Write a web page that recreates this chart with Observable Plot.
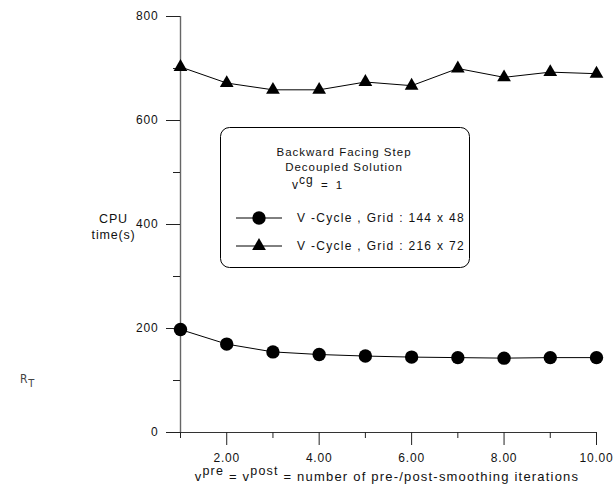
<!DOCTYPE html>
<html>
<head>
<meta charset="utf-8">
<script src="https://cdn.jsdelivr.net/npm/d3@7"></script>
<script src="https://cdn.jsdelivr.net/npm/@observablehq/plot@0.6"></script>
<style>
  html, body { margin: 0; padding: 0; background: #fff; }
  #chart svg { display: block; overflow: visible; }
</style>
</head>
<body>
<div id="chart"></div>
<script>
// ---- data ----
const iterations = [1, 2, 3, 4, 5, 6, 7, 8, 9, 10];
const grid144x48 = [198, 170, 155, 150, 147, 145, 144, 143, 144, 144];
const grid216x72 = [703, 672, 659, 659, 674, 667, 700, 683, 693, 690];
const yMajorTicks = [0, 200, 400, 600, 800];
const yMinorTicks = [100, 300, 500, 700];
const xMajorTicks = [2, 4, 6, 8, 10];
const xMinorTicks = [1, 3, 5, 7, 9];
const seriesNames = ["V -Cycle , Grid : 144 x 48", "V -Cycle , Grid : 216 x 72"];
const titleLines = ["Backward Facing Step", "Decoupled Solution"];

const rows144 = iterations.map((x, i) => ({x, y: grid144x48[i]}));
const rows216 = iterations.map((x, i) => ({x, y: grid216x72[i]}));

const FONT = "'Liberation Sans', Arial, Helvetica, sans-serif";

const plot = Plot.plot({
  width: 613,
  height: 494,
  marginLeft: 180,
  marginRight: 17,
  marginTop: 16,
  marginBottom: 62,
  x: {domain: [1, 10]},
  y: {domain: [0, 800]},
  style: {fontFamily: FONT, fontSize: "12px", letterSpacing: "0.8px", color: "#111", background: "#fff"},
  marks: [
    Plot.ruleX([1], {y1: 0, y2: 800, stroke: "#666", strokeWidth: 1.4}),
    Plot.ruleY([0], {x1: 1, x2: 10, stroke: "#333", strokeWidth: 1.2}),
    Plot.axisY(yMajorTicks, {tickSize: 14, tickPadding: 8, tickFormat: d => String(d), label: null, stroke: "#222"}),
    Plot.axisY(yMinorTicks, {tickSize: 7, tickFormat: () => "", label: null, stroke: "#222"}),
    Plot.axisX(xMajorTicks, {tickSize: 13, tickPadding: 8, tickFormat: d3.format(".2f"), label: null, stroke: "#222"}),
    Plot.axisX(xMinorTicks, {tickSize: 6, tickFormat: () => "", label: null, stroke: "#222"}),
    Plot.text(["CPU\ntime(s)"], {x: () => 1, y: () => 400, dx: -67, dy: 1, lineHeight: 1.3, fontSize: 12.5, fill: "#111"}),
    Plot.line(rows144, {x: "x", y: "y", stroke: "#000", strokeWidth: 1}),
    Plot.line(rows216, {x: "x", y: "y", stroke: "#000", strokeWidth: 1}),
    Plot.dot(rows144, {x: "x", y: "y", r: 6.7, fill: "#000", symbol: "circle"}),
    Plot.dot(rows216, {x: "x", y: "y", r: 5.1, fill: "#000", symbol: "triangle"})
  ]
});

document.getElementById("chart").appendChild(plot);

const svg = d3.select(plot);

// x-axis label with superscripts
const xl = svg.append("text")
  .attr("x", 387).attr("y", 481)
  .attr("text-anchor", "middle")
  .style("font-family", FONT).style("font-size", "13px").style("letter-spacing", "1.2px")
  .attr("fill", "#111");
xl.append("tspan").text("v");
xl.append("tspan").attr("dy", -6).style("font-size", "12.5px").text("pre");
xl.append("tspan").attr("dy", 6).text(" = v");
xl.append("tspan").attr("dy", -6).style("font-size", "12.5px").text("post");
xl.append("tspan").attr("dy", 6).text(" = number of pre-/post-smoothing iterations");

// legend box
const lg = svg.append("g").attr("text-anchor", "start")
  .style("font-family", FONT).style("font-size", "11.5px").style("letter-spacing", "1px").attr("fill", "#111");
lg.append("rect").attr("x", 220.5).attr("y", 127.5).attr("width", 249).attr("height", 140)
  .attr("rx", 9).attr("fill", "#fff").attr("stroke", "#000").attr("stroke-width", 1);
titleLines.forEach((t, i) => {
  lg.append("text").attr("x", 344).attr("y", 156 + i * 15).attr("text-anchor", "middle").text(t);
});
const vcg = lg.append("text").attr("x", 292).attr("y", 189).attr("text-anchor", "start")
  .style("word-spacing", "3px");
vcg.append("tspan").style("font-size", "12px").text("v");
vcg.append("tspan").attr("dy", -5).style("font-size", "12px").text("cg");
vcg.append("tspan").attr("dy", 5).text(" = 1");

const symbols = [d3.symbolCircle, d3.symbolTriangle];
const radii = [6.7, 5.1];
[218, 246].forEach((yy, i) => {
  lg.append("line").attr("x1", 236).attr("x2", 282).attr("y1", yy).attr("y2", yy).attr("stroke", "#000");
  lg.append("path").attr("transform", `translate(259,${yy})`)
    .attr("d", d3.symbol(symbols[i], Math.PI * radii[i] * radii[i])()).attr("fill", "#000");
  lg.append("text").attr("x", 297).attr("y", yy + 4).attr("text-anchor", "start")
    .style("font-size", "12px").style("letter-spacing", "1.3px").text(seriesNames[i]);
});

// stray label at left
const rt = svg.append("text").attr("x", 20).attr("y", 383).attr("text-anchor", "start")
  .style("font-family", "'Liberation Sans Narrow', 'DejaVu Sans Condensed', sans-serif")
  .style("font-size", "12px").attr("fill", "#444");
rt.append("tspan").text("R");
rt.append("tspan").attr("dy", 4).style("font-size", "11px").text("T");
</script>
</body>
</html>
